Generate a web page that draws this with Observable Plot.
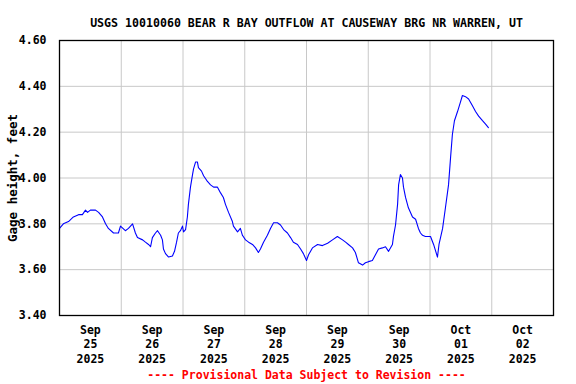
<!DOCTYPE html>
<html><head><meta charset="utf-8">
<script src="https://cdn.jsdelivr.net/npm/d3@7"></script>
<script src="https://cdn.jsdelivr.net/npm/@observablehq/plot@0.6"></script>
<style>body{margin:0;background:#fff}</style>
</head><body><div id="chart"></div>
<script>
const title = "USGS 10010060 BEAR R BAY OUTFLOW AT CAUSEWAY BRG NR WARREN, UT";
const yLabel = "Gage height, feet";
const caption = "---- Provisional Data Subject to Revision ----";
const startDate = "2025-09-25T00:00:00Z";
const dayCount = 8;
// hours since Sep 25 2025 00:00
const hours = [0,1.5,3.5,5.4,7.4,8.9,10.1,10.9,12.0,14.0,15.2,16.7,17.9,19.0,21.0,22.9,23.7,25.6,26.8,28.4,29.5,30.3,32.3,33.4,34.6,35.4,36.1,37.3,38.1,39.3,40.0,40.4,41.2,42.4,43.9,44.7,45.5,46.2,47.0,47.8,48.2,49.0,49.7,50.1,50.9,51.7,52.1,52.9,53.6,54.0,55.2,56.0,57.5,58.7,59.9,61.4,62.6,63.7,64.5,65.7,67.2,67.6,69.2,70.3,71.1,72.3,73.5,75.0,76.2,77.3,78.1,79.3,80.8,82.0,83.2,84.7,85.9,87.1,88.6,89.8,90.9,92.5,93.7,94.8,96.0,96.8,98.3,100.3,102.2,104.2,106.1,108.0,110.0,111.2,112.3,113.9,115.0,116.2,117.8,118.9,120.1,121.6,122.8,124.0,125.5,126.7,127.9,129.4,129.8,130.6,131.4,131.8,132.5,133.3,133.7,134.5,135.6,137.2,138.4,139.5,140.3,141.1,142.2,143.0,144.2,145.4,146.9,147.5,148.9,150.0,151.2,152.0,152.7,153.5,154.7,155.8,156.6,157.8,159.0,160.5,161.7,162.9,164.4,165.6,166.7];
const gage = [3.78,3.80,3.81,3.83,3.84,3.84,3.86,3.85,3.86,3.86,3.85,3.83,3.80,3.78,3.76,3.76,3.79,3.77,3.78,3.80,3.76,3.74,3.73,3.72,3.71,3.70,3.74,3.76,3.77,3.75,3.73,3.69,3.67,3.655,3.66,3.68,3.72,3.76,3.77,3.79,3.765,3.775,3.83,3.885,3.96,4.015,4.04,4.07,4.07,4.045,4.03,4.01,3.985,3.97,3.96,3.96,3.935,3.915,3.885,3.85,3.81,3.79,3.765,3.78,3.75,3.73,3.72,3.71,3.695,3.675,3.69,3.72,3.75,3.78,3.805,3.805,3.795,3.775,3.76,3.74,3.72,3.71,3.69,3.67,3.64,3.665,3.695,3.71,3.705,3.715,3.73,3.745,3.73,3.72,3.71,3.695,3.675,3.63,3.62,3.63,3.635,3.64,3.665,3.69,3.695,3.70,3.68,3.71,3.745,3.795,3.885,3.97,4.015,4.00,3.96,3.915,3.87,3.83,3.82,3.78,3.76,3.75,3.745,3.745,3.745,3.71,3.655,3.71,3.78,3.87,3.97,4.09,4.19,4.25,4.29,4.33,4.36,4.355,4.345,4.315,4.29,4.27,4.25,4.235,4.22];
const yTicks = [3.4,3.6,3.8,4.0,4.2,4.4,4.6];

const t0 = Date.parse(startDate);
const data = hours.map((h, i) => ({date: new Date(t0 + h * 3600e3), value: gage[i]}));
const dayStarts = d3.range(dayCount + 1).map(i => new Date(t0 + i * 864e5));
const dayNoons = d3.range(dayCount).map(i => new Date(t0 + i * 864e5 + 432e5));
const font = "'DejaVu Sans Mono', monospace";

const chart = Plot.plot({
  width: 576,
  height: 384,
  marginLeft: 59,
  marginRight: 23,
  marginTop: 40,
  marginBottom: 69,
  style: {fontFamily: font, fontSize: "11.5px", fontWeight: "bold", color: "black", background: "white"},
  x: {type: "utc", domain: [dayStarts[0], dayStarts[dayCount]], axis: null},
  y: {domain: [3.4, 4.6], axis: null},
  marks: [
    Plot.ruleX(dayStarts, {stroke: "#c8c8c8", strokeWidth: 1}),
    Plot.ruleY(yTicks, {stroke: "#c8c8c8", strokeWidth: 1}),
    Plot.line(data, {x: "date", y: "value", stroke: "#0000ff", strokeWidth: 1.1}),
    Plot.frame({stroke: "black", strokeWidth: 1.3}),
    Plot.axisY(yTicks, {tickSize: 0, tickPadding: 13, tickFormat: d => d.toFixed(2), label: null, fontWeight: "bold"}),
    Plot.axisX(dayNoons, {tickSize: 0, tickPadding: 9, tickFormat: d => d3.utcFormat("%b\n%d\n%Y")(d), label: null, lineHeight: 1.22, fontWeight: "bold"}),
    Plot.text([yLabel], {frameAnchor: "left", textAnchor: "middle", rotate: -90, dx: -47, fontSize: 12.5}),
    Plot.text([title], {frameAnchor: "top", textAnchor: "middle", dy: -22, fontSize: 11.6}),
    Plot.text([caption], {frameAnchor: "bottom", textAnchor: "middle", dy: 63, fill: "#ff0000"})
  ]
});
document.getElementById("chart").appendChild(chart);
</script>
</body></html>
